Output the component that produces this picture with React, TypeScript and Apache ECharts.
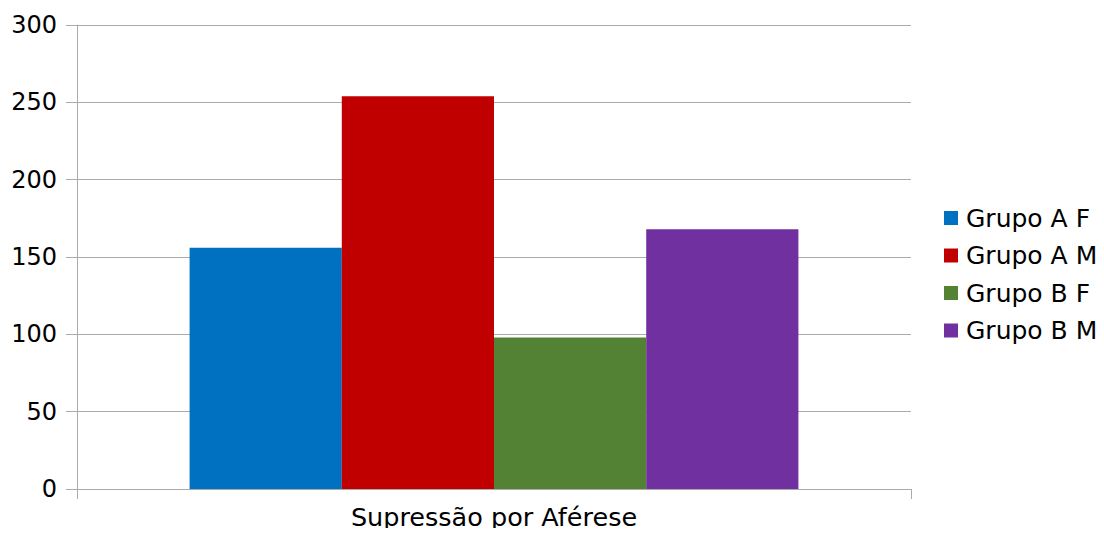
import React, { useEffect, useRef } from "react";
import * as echarts from "echarts";

const categories = ["Supressão por Aférese"];
const seriesNames = ["Grupo A F", "Grupo A M", "Grupo B F", "Grupo B M"];
const seriesValues = [[156], [254], [98], [168]];
const seriesColors = ["#0070c0", "#c00000", "#548235", "#7030a0"];
const yTicks = { min: 0, max: 300, interval: 50 };

const FONT = "DejaVu Sans";
const AXIS_GRAY = "#ababab";

export default function App() {
  const ref = useRef<HTMLDivElement>(null);

  useEffect(() => {
    if (!ref.current) return;
    const chart = echarts.init(ref.current, undefined, { renderer: "svg" });
    chart.setOption({
      animation: false,
      backgroundColor: "#ffffff",
      textStyle: { fontFamily: FONT },
      grid: { left: 77, right: 193, top: 25, bottom: 47, containLabel: false },
      legend: {
        orient: "vertical",
        left: 944,
        top: 203,
        padding: 0,
        itemWidth: 14,
        itemHeight: 14,
        itemGap: 7.5,
        icon: "rect",
        textStyle: {
          fontFamily: FONT,
          fontSize: 25,
          color: "#000000",
          lineHeight: 30,
          padding: [0, 0, 0, 3],
        },
        data: seriesNames,
      },
      xAxis: {
        type: "category",
        data: categories,
        axisLine: { show: true, lineStyle: { color: AXIS_GRAY, width: 1 } },
        axisTick: { show: true, length: 10, alignWithLabel: false, lineStyle: { color: AXIS_GRAY } },
        axisLabel: { fontFamily: FONT, fontSize: 25.5, color: "#000000", margin: 15 },
      },
      yAxis: {
        type: "value",
        min: yTicks.min,
        max: yTicks.max,
        interval: yTicks.interval,
        axisLine: { show: true, lineStyle: { color: AXIS_GRAY, width: 1 } },
        axisTick: { show: true, length: 11, lineStyle: { color: AXIS_GRAY } },
        axisLabel: { fontFamily: FONT, fontSize: 24, color: "#000000", margin: 20 },
        splitLine: { show: true, lineStyle: { color: AXIS_GRAY, width: 1 } },
      },
      series: seriesNames.map((name, i) => ({
        name,
        type: "bar",
        data: seriesValues[i],
        barGap: "0%",
        barCategoryGap: "27%",
        itemStyle: { color: seriesColors[i] },
      })),
    });
    return () => chart.dispose();
  }, []);

  return <div ref={ref} style={{ width: 1104, height: 536, margin: -8 }} />;
}
